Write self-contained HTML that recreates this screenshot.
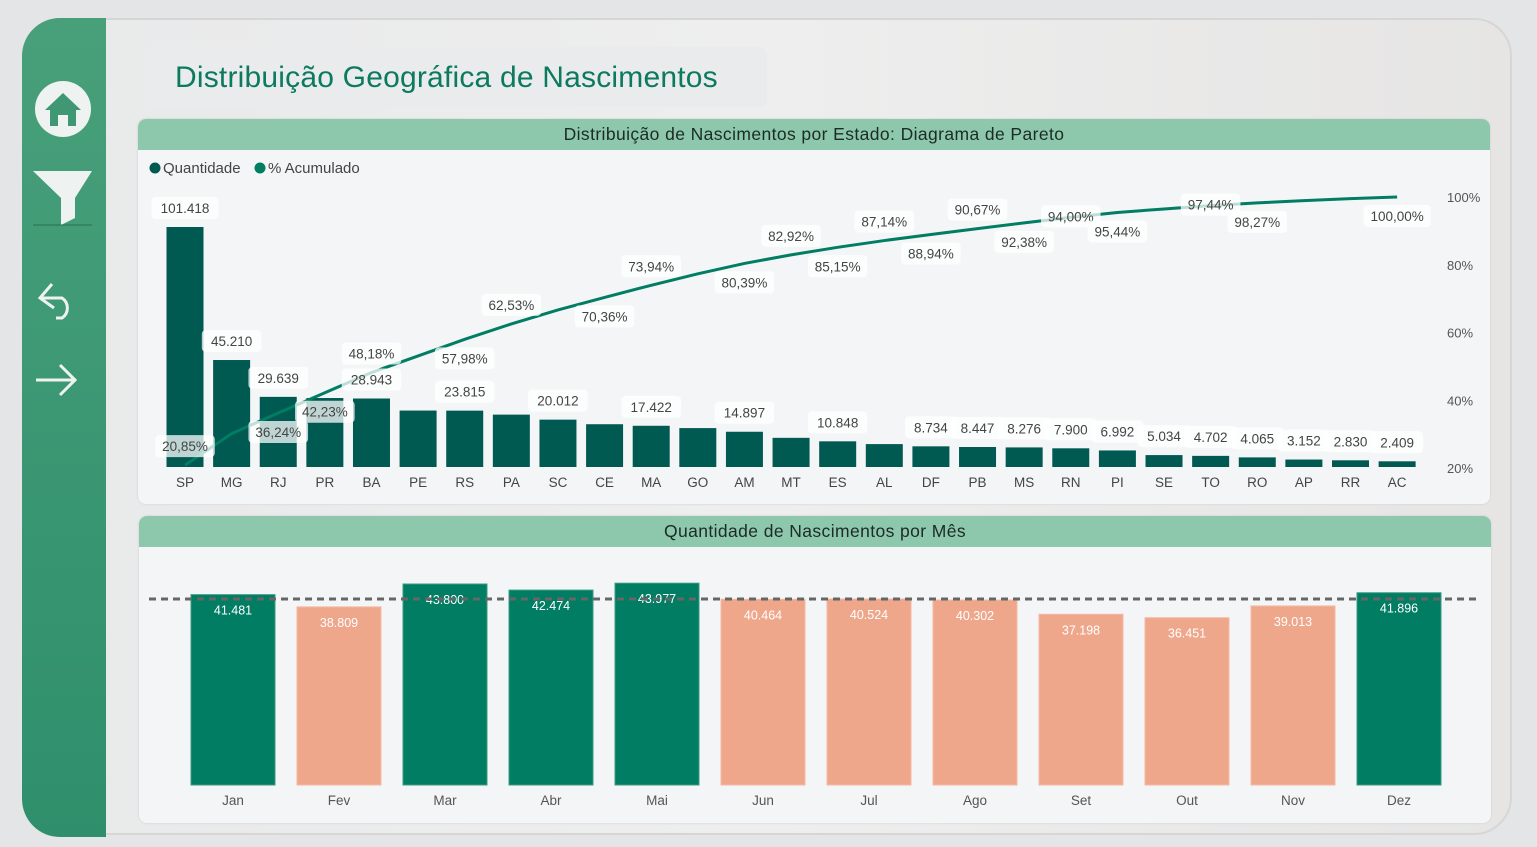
<!DOCTYPE html>
<html><head><meta charset="utf-8">
<style>
body{margin:0;width:1537px;height:847px;overflow:hidden;background:#e4e5e6;font-family:"Liberation Sans",sans-serif;position:relative}
.frame{position:absolute;left:22px;top:18px;width:1490px;height:817px;border-radius:38px;background:linear-gradient(90deg,#e8e9ea,#eeeeee 50%,#e6e5e4);border:2px solid #d6d6d6;box-sizing:border-box;overflow:hidden}
.side{position:absolute;left:22px;top:18px;width:84px;height:819px;background:linear-gradient(180deg,#48a07a,#2f8f6c);border-radius:38px 0 0 38px}
.title{position:absolute;left:144px;top:47px;width:623px;height:60px;background:#eaebec;border-radius:8px;color:#0b7a5f;font-size:30px;line-height:62px;padding-left:31px;box-sizing:border-box;letter-spacing:0.2px}
.panel{position:absolute;background:#f4f5f6;border-radius:8px;overflow:hidden;box-shadow:0 0 2px #ccc}
.hdr{height:31px;background:#8dc8ad;color:#1c2b25;font-size:17.5px;text-align:center;line-height:31px;letter-spacing:0.4px}
svg text{font-family:"Liberation Sans",sans-serif}
</style></head><body>
<div class="frame"></div>
<div class="side">
<svg width="84" height="400" style="position:absolute;left:0;top:0">
<g><circle cx="41" cy="91" r="28" fill="#eef2f0"/><path d="M23 92 L41 75 L59 92 L54 92 L54 108 L46 108 L46 97 L36 97 L36 108 L28 108 L28 92 Z" fill="#3f9873"/></g>
<g><path d="M11 153 L70 153 L53 180 L53 200 L39 207 L39 180 Z" fill="#eef2f0"/><line x1="11" y1="207" x2="70" y2="207" stroke="#2c6e55" stroke-width="1"/></g>
<g fill="none" stroke="#eef2f0" stroke-width="3"><path d="M30 266 L18 280 L32 290"/><path d="M18 280 L40 280 A12 12 0 0 1 40 300 L34 300"/></g>
<g fill="none" stroke="#eef2f0" stroke-width="3"><path d="M14 362 L52 362 M38 347 L53 362 L38 377"/></g>
</svg></div>
<div class="title">Distribuição Geográfica de Nascimentos</div>

<div class="panel" style="left:138px;top:119px;width:1352px;height:385px">
<div class="hdr">Distribuição de Nascimentos por Estado: Diagrama de Pareto</div>
<svg id="pareto" width="1352" height="354" style="position:absolute;left:0;top:31px"></svg>
</div>

<div class="panel" style="left:139px;top:516px;width:1352px;height:307px">
<div class="hdr">Quantidade de Nascimentos por Mês</div>
<svg id="month" width="1352" height="276" style="position:absolute;left:0;top:31px"></svg>
</div>

<script>
const states=["SP","MG","RJ","PR","BA","PE","RS","PA","SC","CE","MA","GO","AM","MT","ES","AL","DF","PB","MS","RN","PI","SE","TO","RO","AP","RR","AC"];
const quantities=[101418,45210,29639,29147,28943,23852,23815,22133,20012,18077,17422,16446,14897,12326,10848,9679,8734,8447,8276,7900,6992,5034,4702,4065,3152,2830,2409];
const qtyLabelShown=[1,1,1,0,1,0,1,0,1,0,1,0,1,0,1,0,1,1,1,1,1,1,1,1,1,1,1];
const pctLabelShown=[1,0,1,1,1,0,1,1,0,1,1,0,1,1,1,1,1,1,1,1,1,0,1,1,0,0,1];
const pctLabelSide=[-1,0,1,1,-1,0,1,-1,0,1,-1,0,1,-1,1,-1,1,-1,1,0,1,0,0,1,0,0,1];
const pctTicks=[20,40,60,80,100];
const months=["Jan","Fev","Mar","Abr","Mai","Jun","Jul","Ago","Set","Out","Nov","Dez"];
const monthValues=[41481,38809,43800,42474,43977,40464,40524,40302,37198,36451,39013,41896];

const NS="http://www.w3.org/2000/svg";
function mk(p,tag,attrs){const e=document.createElementNS(NS,tag);for(const k in attrs)e.setAttribute(k,attrs[k]);p.appendChild(e);return e;}
const fmt=v=>v.toString().replace(/\B(?=(\d{3})+(?!\d))/g,".");

const P=document.getElementById('pareto');
const base=317, x0=47, step=46.62, bw=37;
const maxQ=Math.max(...quantities);
const yQ=v=>base-v*240/maxQ;
const xS=i=>x0+i*step;
const yP=p=>318-(p-20)/80*271;
const total=quantities.reduce((a,b)=>a+b,0);
let cum=0;const cumPct=quantities.map(q=>{cum+=q;return cum/total*100;});

let lg=mk(P,'g',{});


mk(lg,'circle',{cx:17,cy:18,r:5.5,fill:'#005a52'});
mk(lg,'text',{x:25,y:23,'font-size':15,fill:'#444'}).textContent='Quantidade';
mk(lg,'circle',{cx:122,cy:18,r:5.5,fill:'#007d63'});
mk(lg,'text',{x:130,y:23,'font-size':15,fill:'#444'}).textContent='% Acumulado';

pctTicks.forEach(t=>{const e=mk(P,'text',{x:1309,y:yP(t)+5,'font-size':13,fill:'#555'});e.textContent=t+'%';

});

states.forEach((s,i)=>{
 const b=mk(P,'rect',{x:xS(i)-bw/2,y:yQ(quantities[i]),width:bw,height:base-yQ(quantities[i]),fill:'#005a52'});
 
 
 const t=mk(P,'text',{x:xS(i),y:337,'font-size':13.5,fill:'#444','text-anchor':'middle'});t.textContent=s;
 
 
});
const pts=cumPct.map((p,i)=>xS(i)+','+yP(p)).join(' ');
const ln=mk(P,'polyline',{points:pts,fill:'none',stroke:'#007d63','stroke-width':3});



function label(txt,cx,cy,cls){
 const w=txt.length*7.6+14;
 const g=mk(P,'g',{});
 
 
 mk(g,'rect',{x:cx-w/2,y:cy-11,width:w,height:22,rx:4,fill:'#fff','fill-opacity':0.75});
 mk(g,'text',{x:cx,y:cy+5,'font-size':13.5,fill:'#444','text-anchor':'middle'}).textContent=txt;
}
quantities.forEach((q,i)=>{if(qtyLabelShown[i])label(fmt(q),xS(i),yQ(q)-19,'quantity-label');});
cumPct.forEach((p,i)=>{if(pctLabelShown[i])label(p.toFixed(2).replace('.',',')+'%',xS(i),yP(p)+pctLabelSide[i]*19-(pctLabelSide[i]==0?1:0),'percent-label');});

const M=document.getElementById('month');
const mBase=238, mx0=94, mstep=106, mbw=84;
const yM=v=>mBase-v*201/43800;
const avg=monthValues.reduce((a,b)=>a+b,0)/monthValues.length;
monthValues.forEach((v,i)=>{
 const above=v>=avg;
 const r=mk(M,'rect',{x:mx0+i*mstep-mbw/2,y:yM(v),width:mbw,height:mBase-yM(v),fill:above?'#007d63':'#efa78c',stroke:above?'#3a9a82':'#f3b8a2','stroke-width':1});
 
 
 const t=mk(M,'text',{x:mx0+i*mstep,y:yM(v)+20,'font-size':12.5,fill:'#fff','text-anchor':'middle'});t.textContent=fmt(v);
 
 
 const m=mk(M,'text',{x:mx0+i*mstep,y:258,'font-size':13.5,fill:'#555','text-anchor':'middle'});m.textContent=months[i];
 
 
});
const al=mk(M,'line',{x1:10,x2:1342,y1:yM(avg),y2:yM(avg),stroke:'#666','stroke-width':3,'stroke-dasharray':'7,5'});


</script>
</body></html>
